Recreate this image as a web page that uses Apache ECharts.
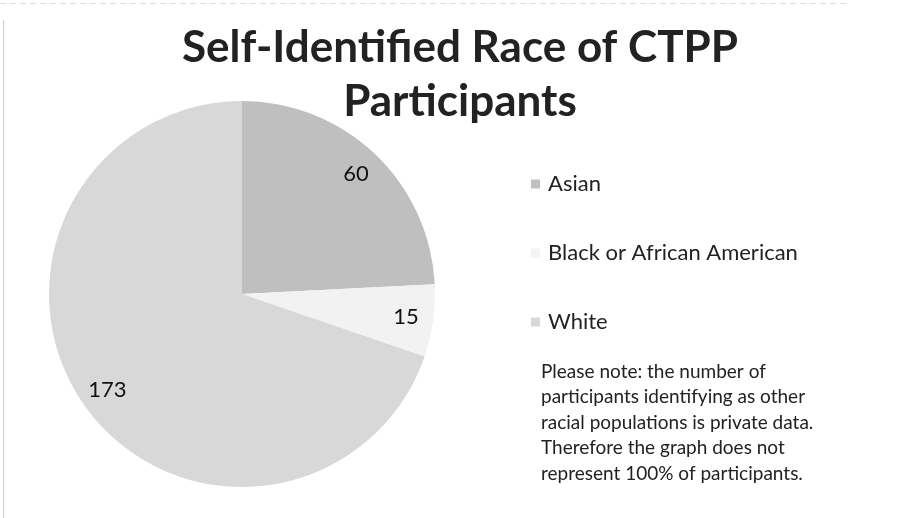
<!DOCTYPE html>
<html>
<head>
<meta charset="utf-8">
<script src="https://cdn.jsdelivr.net/npm/echarts@6/dist/echarts.min.js"></script>
<style>html,body{margin:0;padding:0;background:#fff}#c{width:900px;height:518px}</style>
</head>
<body>
<div id="c"></div>
<script>
const categories = ["Asian", "Black or African American", "White"];
const values = [60, 15, 173];
const sliceColors = ["#bfbfbf", "#f2f2f2", "#d8d8d8"];
const titleText = "Self-Identified Race of CTPP\nParticipants";
const noteText = "Please note: the number of\nparticipants identifying as other\nracial populations is private data.\nTherefore the graph does not\nrepresent 100% of participants.";

const FONT = "Lato, 'Open Sans', sans-serif";
const pieData = categories.map((n, i) => ({ name: n, value: values[i], itemStyle: { color: sliceColors[i] } }));

const chart = echarts.init(document.getElementById('c'), null, { renderer: 'canvas' });
chart.setOption({
  backgroundColor: '#ffffff',
  animation: false,
  title: [
    { text: titleText, left: 455, textAlign: 'center', top: 16,
      textStyle: { fontFamily: FONT, fontWeight: 'bold', fontSize: 44, lineHeight: 54, color: '#222' } },
    { text: noteText, left: 536, top: 354,
      textStyle: { fontFamily: FONT, fontWeight: 'normal', fontSize: 19, lineHeight: 25.5, color: '#222' } }
  ],
  legend: {
    orient: 'vertical', left: 526, top: 168,
    itemWidth: 9, itemHeight: 9, itemGap: 47, icon: 'rect',
    data: categories,
    textStyle: { fontFamily: FONT, fontSize: 22, color: '#222', padding: [0, 0, 0, 3] }
  },
  series: [
    { type: 'pie', center: [242, 294], radius: [0, 193], startAngle: 90, clockwise: true,
      data: pieData, label: { show: false }, labelLine: { show: false },
      itemStyle: { borderWidth: 0 }, emphasis: { disabled: true } },
    { type: 'pie', center: [242, 294], radius: [132, 193], startAngle: 90, clockwise: true,
      data: pieData.map(d => ({ name: d.name, value: d.value, itemStyle: { color: 'rgba(0,0,0,0)' } })),
      silent: true, legendHoverLink: false,
      label: { show: true, position: 'inside', formatter: '{c}', fontFamily: FONT, fontSize: 22, color: '#111' },
      labelLine: { show: false }, itemStyle: { borderWidth: 0 }, emphasis: { disabled: true } }
  ],
  graphic: [
    { type: 'line', shape: { x1: 3.5, y1: 20, x2: 3.5, y2: 518 }, style: { stroke: '#d0d0d0', lineWidth: 1 } },
    { type: 'line', shape: { x1: 0, y1: 3.5, x2: 850, y2: 3.5 }, style: { stroke: '#e0e0e0', lineWidth: 1, lineDash: [6, 4] } }
  ]
});
</script>
</body>
</html>
